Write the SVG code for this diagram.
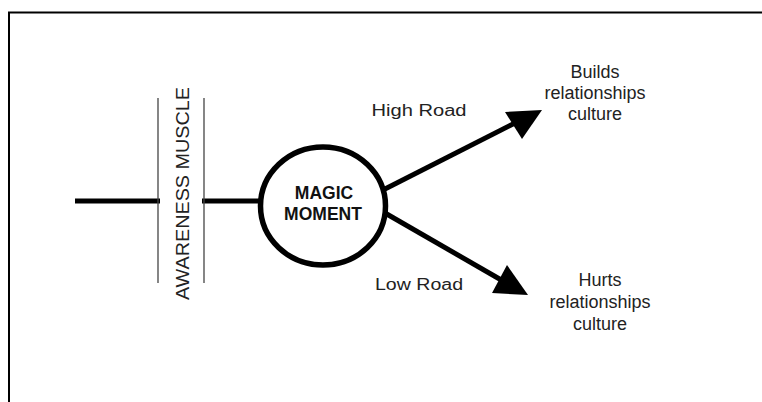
<svg xmlns="http://www.w3.org/2000/svg" width="762" height="402" viewBox="0 0 762 402">
<style>
.lbl{font-family:"Liberation Sans",Arial,sans-serif;font-size:16px;fill:#222;text-anchor:middle}
.side{font-size:18px}
.bold{font-family:"Liberation Sans",Arial,sans-serif;font-size:17.5px;font-weight:bold;fill:#111;text-anchor:middle}
.thick{stroke:#000;stroke-width:5;fill:none}
.thin{stroke:#444;stroke-width:1.3;fill:none}
</style>
<rect width="762" height="402" fill="#fff"/>
<path d="M9 402 V12.5 H762" stroke="#000" stroke-width="2" fill="none"/>
<g id="connectors">
<line class="thick" x1="75" y1="201" x2="160" y2="201"/>
<line class="thick" x1="202" y1="201" x2="262" y2="201"/>
<line class="thick" x1="383" y1="190" x2="515" y2="123"/>
<polygon points="542,110 505,112 522,139" fill="#000"/>
<line class="thick" x1="385" y1="213" x2="503" y2="281"/>
<polygon points="528,295 492,293 507,265" fill="#000"/>
</g>
<g id="awareness">
<line class="thin" x1="158" y1="98" x2="158" y2="283"/>
<line class="thin" x1="204" y1="98" x2="204" y2="283"/>
<text class="lbl" transform="translate(189,193.5) rotate(-90)" style="font-size:18px" textLength="213" lengthAdjust="spacingAndGlyphs">AWARENESS MUSCLE</text>
</g>
<g id="magic">
<ellipse cx="323" cy="206" rx="62.5" ry="59" stroke="#000" stroke-width="5.5" fill="#fff"/>
<text class="bold" x="324" y="199">MAGIC</text>
<text class="bold" x="323" y="220">MOMENT</text>
</g>
<g id="high-road"><text class="lbl" x="419" y="116" textLength="95" lengthAdjust="spacingAndGlyphs">High Road</text></g>
<g id="low-road"><text class="lbl" x="419" y="290" textLength="88" lengthAdjust="spacingAndGlyphs">Low Road</text></g>
<g id="builds">
<text class="lbl side" x="595" y="78">Builds</text>
<text class="lbl side" x="595" y="99">relationships</text>
<text class="lbl side" x="595" y="120">culture</text>
</g>
<g id="hurts">
<text class="lbl side" x="600" y="286">Hurts</text>
<text class="lbl side" x="600" y="308">relationships</text>
<text class="lbl side" x="600" y="330">culture</text>
</g>
</svg>
